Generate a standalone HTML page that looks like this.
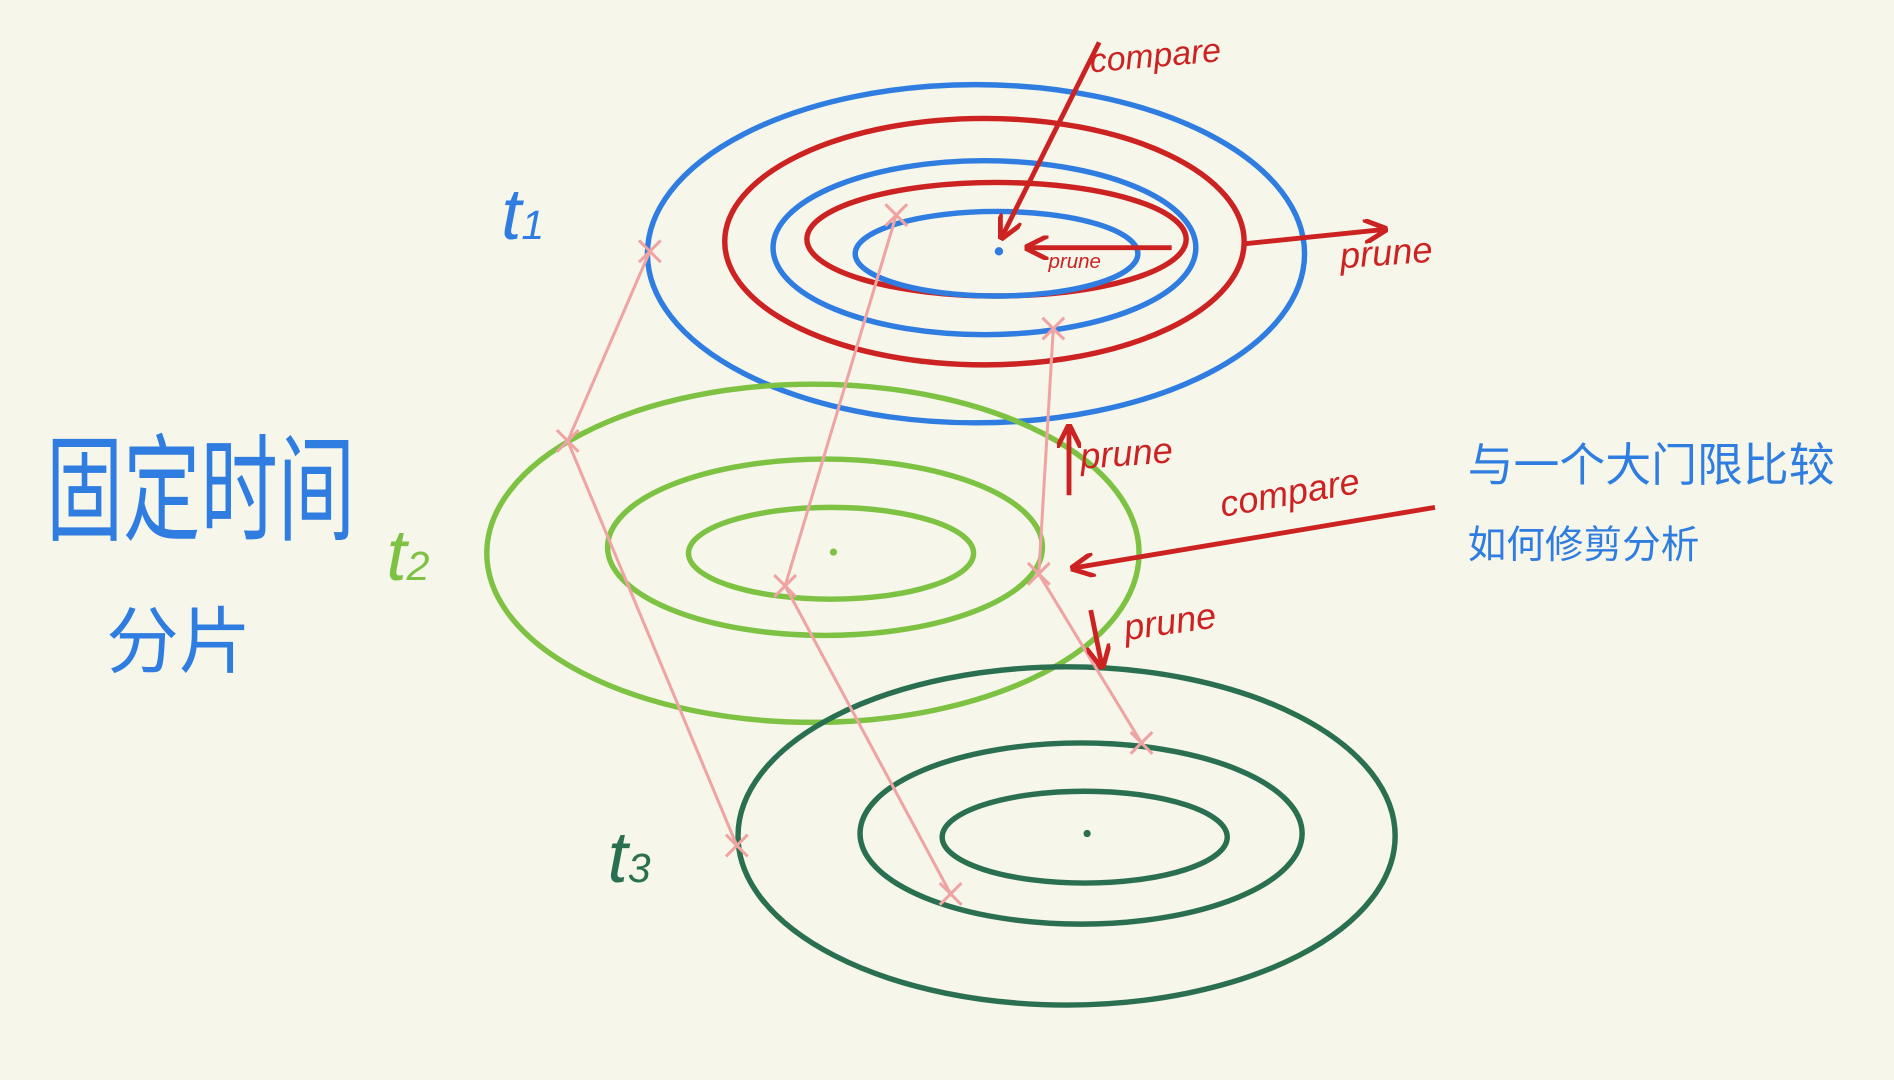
<!DOCTYPE html>
<html><head><meta charset="utf-8"><style>
html,body{margin:0;padding:0;background:#f6f6ea;}
svg{display:block;}
text{font-family:"Liberation Sans","WenQuanYi Zen Hei",sans-serif;}
</style></head><body>
<svg id="c" width="1894" height="1080" viewBox="0 0 1568 894" xmlns="http://www.w3.org/2000/svg">
<rect width="1568" height="894" fill="#f6f6ea"/>
<g id="ell" fill="none" stroke-width="4.5"></g>
<g id="lines" fill="none" stroke="#f0a3a3" stroke-width="2.5"></g>
<defs><marker id="ah" viewBox="0 0 10 10" refX="8" refY="5" markerWidth="5" markerHeight="5" orient="auto"><path d="M0,0 L10,5 L0,10" fill="none" stroke="#cc2222" stroke-width="2"/></marker></defs>
<g stroke="#cc2222" stroke-width="4" fill="none" marker-end="url(#ah)">
<line x1="910" y1="35" x2="830" y2="195"/>
<line x1="970" y1="205" x2="852" y2="205"/>
<line x1="1028" y1="202" x2="1145" y2="190"/>
<line x1="885" y1="410" x2="885" y2="355"/>
<line x1="1188" y1="420" x2="890" y2="470"/>
<line x1="903" y1="505" x2="912" y2="550"/>
</g>
<g fill="#cc2222" font-style="italic">
<text x="903" y="60" font-size="28" transform="rotate(-5 903 60)">compare</text>
<text x="868" y="222" font-size="17">prune</text>
<text x="1110" y="222" font-size="30" transform="rotate(-4 1110 222)">prune</text>
<text x="895" y="388" font-size="30" transform="rotate(-4 895 388)">prune</text>
<text x="1012" y="428" font-size="30" transform="rotate(-10 1012 428)">compare</text>
<text x="932" y="530" font-size="30" transform="rotate(-8 932 530)">prune</text>
</g>
<text x="415" y="198" font-size="60" fill="#2f7de0" font-style="italic">t<tspan font-size="34">1</tspan></text>
<text x="320" y="480" font-size="60" fill="#7dc242" font-style="italic">t<tspan font-size="34">2</tspan></text>
<text x="503" y="730" font-size="60" fill="#2a7050" font-style="italic">t<tspan font-size="34">3</tspan></text>
<g fill="#2f7de0">
<circle cx="827" cy="208" r="3.5"/>
<text x="38" y="293" font-size="64" transform="scale(1,1.5)">固定时间</text>
<text x="88" y="552" font-size="60">分片</text>
<text x="1215" y="398" font-size="38">与一个大门限比较</text>
<text x="1215" y="462" font-size="32">如何修剪分析</text>
</g>
<circle cx="690" cy="457" r="3" fill="#7dc242"/>
<circle cx="900" cy="690" r="3" fill="#2a7050"/>
<script>
const ellCx=[808,815,815,825,825, 673,683,688, 883,895,898];
const ellCy=[210,200,205,198,210, 458,453,458, 692,690,693];
const ellRx=[272,215,175,157,117, 270,180,118, 272,183,118];
const ellRy=[140,102,72,47,35, 140,73,38, 140,75,38];
const ellColor=["#2f7de0","#cc2222","#2f7de0","#cc2222","#2f7de0","#7dc242","#7dc242","#7dc242","#2a7050","#2a7050","#2a7050"];
const paths=[[[538,208],[470,365],[610,700]],[[742,178],[650,485],[787,740]],[[872,272],[860,475],[945,615]]];
const NS="http://www.w3.org/2000/svg";
const ge=document.getElementById('ell');
ellCx.forEach((cx,i)=>{
 const e=document.createElementNS(NS,'ellipse');
 e.setAttribute('cx',cx);e.setAttribute('cy',ellCy[i]);e.setAttribute('rx',ellRx[i]);e.setAttribute('ry',ellRy[i]);
 e.setAttribute('stroke',ellColor[i]);
 
 
 ge.appendChild(e);
});
const gl=document.getElementById('lines');
paths.forEach(p=>{
 const pl=document.createElementNS(NS,'polyline');
 pl.setAttribute('points',p.map(q=>q.join(',')).join(' '));
 
 
 gl.appendChild(pl);
 p.forEach(q=>{
  const x=document.createElementNS(NS,'path');
  x.setAttribute('d',`M${q[0]-9},${q[1]-9}L${q[0]+9},${q[1]+9}M${q[0]+9},${q[1]-9}L${q[0]-9},${q[1]+9}`);
  
  
  gl.appendChild(x);
 });
});
</script>
</svg>
</body></html>
